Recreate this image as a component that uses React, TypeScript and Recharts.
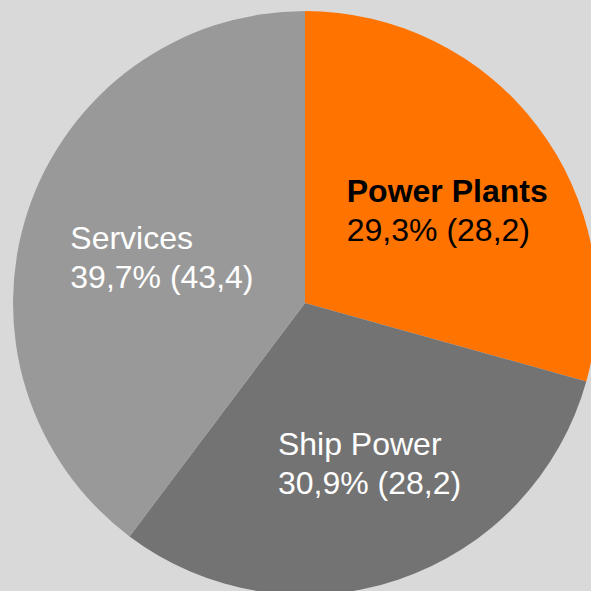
import React from "react";
import { PieChart, Pie, Cell } from "recharts";

// ─── Data ──────────────────────────────────────────────────────────────────────
const CATEGORIES = ["Power Plants", "Ship Power", "Services"];
const SHARES = [29.3, 30.9, 39.7]; // % of total
const AMOUNTS = [28.2, 28.2, 43.4]; // value shown in brackets

const SLICE_COLORS = ["#ff7300", "#737373", "#999999"];
const LABEL_COLORS = ["#000000", "#ffffff", "#ffffff"];
const LABEL_BOLD = [true, false, false];

const FONT = "'Liberation Sans', Arial, sans-serif";
const FONT_SIZE = 32;
const LINE_HEIGHT = 39;
const RADIAN = Math.PI / 180;

const data = CATEGORIES.map((name, i) => ({ name, share: SHARES[i], amount: AMOUNTS[i] }));

const fmt = (v: number) => v.toFixed(1).replace(".", ",");

let ctx: CanvasRenderingContext2D | null = null;
const measure = (text: string, bold: boolean) => {
  if (!ctx) ctx = document.createElement("canvas").getContext("2d");
  if (!ctx) return text.length * FONT_SIZE * 0.55;
  ctx.font = `${bold ? "bold " : ""}${FONT_SIZE}px ${FONT}`;
  return ctx.measureText(text).width;
};

const renderLabel = (props: any) => {
  const { cx, cy, midAngle, outerRadius } = props;
  let index = props.index;
  if (index == null) index = CATEGORIES.indexOf(props.name);
  const r = outerRadius * 0.56;
  const ax = cx + r * Math.cos(-midAngle * RADIAN) + 12;
  const ay = cy + r * Math.sin(-midAngle * RADIAN) + 6;
  const bold = LABEL_BOLD[index];
  const line1 = CATEGORIES[index];
  const line2 = `${fmt(SHARES[index])}% (${fmt(AMOUNTS[index])})`;
  const w = Math.max(measure(line1, bold), measure(line2, false));
  const x0 = ax - w / 2;
  return (
    <text fontFamily={FONT} fontSize={FONT_SIZE} fill={LABEL_COLORS[index]}>
      <tspan x={x0} y={ay - 8.5} fontWeight={bold ? "bold" : "normal"}>
        {line1}
      </tspan>
      <tspan x={x0} y={ay - 8.5 + LINE_HEIGHT}>
        {line2}
      </tspan>
    </text>
  );
};

export default function App() {
  return (
    <div
      style={{
        position: "fixed",
        left: 0,
        top: 0,
        width: 591,
        height: 591,
        background: "#d9d9d9",
        overflow: "hidden",
      }}
    >
      <PieChart width={591} height={591} margin={{ top: 0, right: 0, bottom: 0, left: 0 }}>
        <Pie
          data={data}
          dataKey="share"
          nameKey="name"
          cx={305}
          cy={303}
          outerRadius={292}
          startAngle={90}
          endAngle={-270}
          stroke="none"
          labelLine={false}
          label={renderLabel}
          isAnimationActive={false}
        >
          {data.map((_, idx) => (
            <Cell key={idx} fill={SLICE_COLORS[idx]} stroke="none" />
          ))}
        </Pie>
      </PieChart>
    </div>
  );
}
